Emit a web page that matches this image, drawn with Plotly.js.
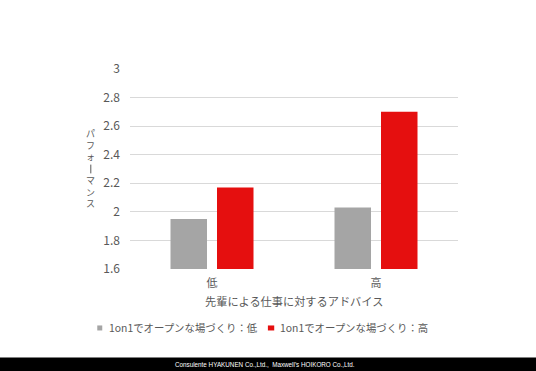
<!DOCTYPE html>
<html>
<head>
<meta charset="utf-8">
<script src="https://cdn.plot.ly/plotly-3.0.1.min.js"></script>
<style>
html,body{margin:0;padding:0;background:#fff;}
#chart{width:536px;height:371px;}
</style>
</head>
<body>
<div id="chart"></div>
<script>
const categories = ["低", "高"];
const seriesNames = ["1on1でオープンな場づくり：低", "1on1でオープンな場づくり：高"];
const seriesColors = ["#a5a5a5", "#e50f0f"];
const valuesLow = [1.95, 2.03];
const valuesHigh = [2.17, 2.70];
const yTicks = [1.6, 1.8, 2, 2.2, 2.4, 2.6, 2.8, 3];
const yTickLabels = ["1.6", "1.8", "2", "2.2", "2.4", "2.6", "2.8", "3"];
const xTitle = "先輩による仕事に対するアドバイス";
const yTitle = "パフォーマンス";
const footer = "Consulente HYAKUNEN Co.,Ltd.,  Maxwell's HOIKORO Co.,Ltd.";

const FONT = "'Noto Sans CJK JP', 'Noto Sans', sans-serif";
const TXT = "#595959";

const traces = [
  {type: "bar", x: categories, y: valuesLow, name: seriesNames[0],
   marker: {color: seriesColors[0]}, hoverinfo: "none"},
  {type: "bar", x: categories, y: valuesHigh, name: seriesNames[1],
   marker: {color: seriesColors[1]}, hoverinfo: "none"}
];

// vertical-writing y title: stacked characters, long-vowel mark drawn vertically
const yTitleStack = yTitle.split("").map(c =>
  c === "ー" ? '<span style="color:rgba(0,0,0,0)">ー</span>' : c).join("<br>");

const layout = {
  width: 536, height: 371,
  margin: {l: 129.5, r: 78, t: 69.3, b: 102.3, pad: 0},
  paper_bgcolor: "#fff", plot_bgcolor: "#fff",
  font: {family: FONT, color: TXT, size: 11},
  barmode: "group", bargap: 0.433, bargroupgap: 0.215,
  showlegend: false,
  xaxis: {type: "category", showgrid: false, zeroline: false, showline: false,
          ticks: "", tickfont: {size: 11, color: TXT}, ticklabelstandoff: 6},
  yaxis: {range: [1.6, 3], tickvals: yTicks, ticktext: yTickLabels,
          showgrid: true, gridcolor: "#d9d9d9", gridwidth: 1, zeroline: false,
          showline: false, ticks: "", tickfont: {size: 12, color: TXT},
          ticklabelstandoff: 9},
  shapes: [
    {type: "rect", xref: "paper", yref: "paper", x0: -0.5, x1: 1.5,
     y0: -0.52, y1: -0.443, fillcolor: "#000", line: {width: 0}, layer: "above"},
    // legend swatches
    {type: "rect", xref: "paper", yref: "paper", x0: -0.0998, x1: -0.0846,
     y0: -0.3074, y1: -0.2823, fillcolor: seriesColors[0], line: {width: 0}},
    {type: "rect", xref: "paper", yref: "paper", x0: 0.4204, x1: 0.4397,
     y0: -0.3074, y1: -0.2823, fillcolor: seriesColors[1], line: {width: 0}},
    // vertical long-vowel stroke in y title
    {type: "line", xref: "paper", yref: "paper", x0: -0.1195, x1: -0.1195,
     y0: 0.478, y1: 0.522, line: {color: TXT, width: 1}}
  ],
  annotations: [
    {text: xTitle, xref: "paper", yref: "paper", x: 0.5, y: -0.158,
     xanchor: "center", yanchor: "middle", showarrow: false,
     font: {size: 11.2, color: TXT}},
    {text: yTitleStack, xref: "paper", yref: "paper",
     x: -0.12, y: 0.5025, xanchor: "center", yanchor: "middle", showarrow: false,
     font: {size: 9, color: TXT}},
    {text: seriesNames[0], xref: "paper", yref: "paper", x: -0.0715, y: -0.2949,
     xanchor: "left", yanchor: "middle", showarrow: false,
     font: {size: 10.4, color: TXT}},
    {text: seriesNames[1], xref: "paper", yref: "paper", x: 0.4518, y: -0.2949,
     xanchor: "left", yanchor: "middle", showarrow: false,
     font: {size: 10.4, color: TXT}},
    {text: footer, xref: "paper", yref: "paper", x: 0.411, y: -0.477,
     xanchor: "center", yanchor: "middle", showarrow: false,
     font: {size: 6.3, color: "#fff", family: "'Liberation Sans', Arial, sans-serif"}}
  ]
};

Plotly.newPlot("chart", traces, layout, {displayModeBar: false, staticPlot: true});
</script>
</body>
</html>
